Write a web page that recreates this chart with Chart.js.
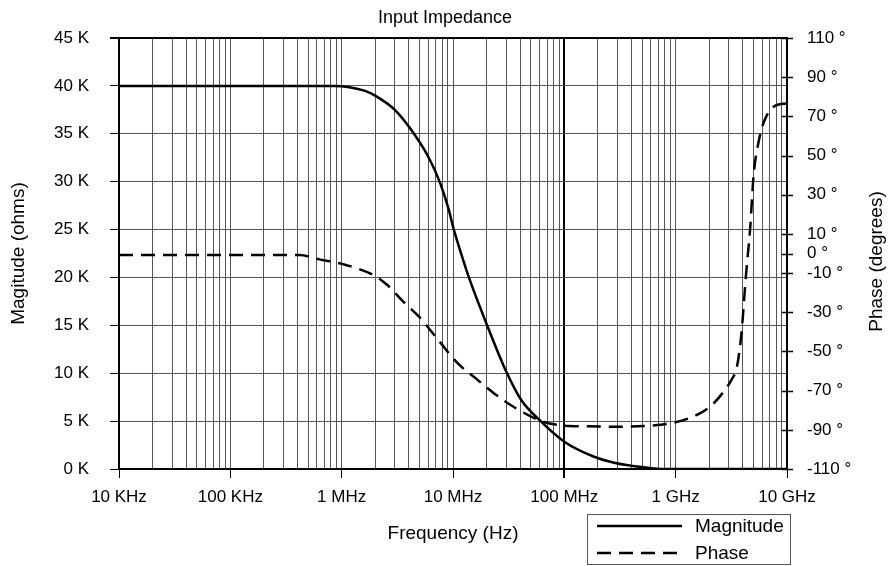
<!DOCTYPE html>
<html>
<head>
<meta charset="utf-8">
<script src="https://cdn.jsdelivr.net/npm/chart.js@4.4.0/dist/chart.umd.min.js"></script>
<style>
  html, body { margin: 0; padding: 0; background: #fff; }
</style>
</head>
<body>
<canvas id="canvas" width="890" height="566"></canvas>
<script>
const magFreq = [1e4, 8.6e5, 1.6e6, 2.05e6, 3.0e6, 4.1e6, 6.0e6, 7.7e6, 9.2e6, 1.0e7, 1.22e7, 1.45e7, 2.05e7, 3.0e7, 4.1e7, 6.0e7, 1.0e8, 1.85e8, 2.8e8, 5.2e8, 8.0e8, 1e10];
const magnitude = [40000, 40000, 39500, 38900, 37500, 35600, 32600, 29800, 27000, 25300, 22000, 19400, 14850, 10200, 7200, 5100, 2850, 1280, 660, 180, 0, 0];

const phaseFreq = [1e4, 4.17e5, 6.3e5, 1.02e6, 2.0e6, 2.57e6, 3.63e6, 5.0e6, 7.1e6, 1.1e7, 1.58e7, 2.34e7, 3.55e7, 6.2e7, 8.7e7, 1.6e8, 3.16e8, 6.3e8, 9.5e8, 1.55e9, 2.1e9, 2.7e9, 3.16e9, 3.55e9, 3.9e9, 4.27e9, 4.68e9, 5.0e9, 5.6e9, 6.3e9, 7.6e9, 1e10];
const phase = [-0.8, -0.8, -3.0, -5.4, -11.5, -16.1, -25.0, -32.5, -43.0, -56.0, -63.5, -71.4, -78.5, -85.5, -87.5, -88.2, -88.4, -87.8, -86.4, -82.4, -77.5, -70.5, -64.6, -57.8, -40.7, -11.8, 13.7, 39.2, 57.9, 68.1, 74.9, 76.7];

const freqTickLabels = ["10 KHz", "100 KHz", "1 MHz", "10 MHz", "100 MHz", "1 GHz", "10 GHz"];
const magTicks = [0, 5000, 10000, 15000, 20000, 25000, 30000, 35000, 40000, 45000];
const phaseTicks = [110, 90, 70, 50, 30, 10, 0, -10, -30, -50, -70, -90, -110];

const fontFamily = "'Liberation Sans', Arial, sans-serif";
Chart.defaults.font.family = fontFamily;
Chart.defaults.color = "#000";

const isDecade = (v) => {
  const l = Math.log10(v);
  return Math.abs(l - Math.round(l)) < 1e-9;
};

const freqTicks = [];
for (let d = 4; d < 10; d++) {
  for (let k = 1; k <= 9; k++) freqTicks.push(k * Math.pow(10, d));
}
freqTicks.push(1e10);

const extras = {
  id: "extras",
  afterDraw(chart) {
    const { ctx, chartArea, scales } = chart;
    const y1 = scales.y1;
    ctx.save();

    ctx.strokeStyle = "#000";
    ctx.lineWidth = 1.5;
    y1.ticks.forEach((t) => {
      const py = Math.round(y1.getPixelForValue(t.value)) + 0.5;
      ctx.beginPath();
      ctx.moveTo(chartArea.right - 5, py);
      ctx.lineTo(chartArea.right + 6, py);
      ctx.stroke();
    });

    ctx.save();
    ctx.font = "19px " + fontFamily;
    ctx.fillStyle = "#000";
    ctx.textAlign = "center";
    ctx.textBaseline = "middle";
    ctx.translate(chartArea.right + 90, (chartArea.top + chartArea.bottom) / 2 + 8);
    ctx.rotate(-Math.PI / 2);
    ctx.fillText("Phase (degrees)", 0, 0);
    ctx.restore();

    // legend box, bottom right
    const bx = chartArea.right - 200;
    const by = chartArea.bottom + 45;
    ctx.lineWidth = 1;
    ctx.strokeStyle = "#555";
    ctx.strokeRect(bx + 0.5, by + 0.5, 203, 50);
    ctx.font = "19px " + fontFamily;
    ctx.textAlign = "left";
    ctx.textBaseline = "middle";
    chart.data.datasets.forEach((ds, i) => {
      const ly = by + 12 + i * 27;
      ctx.strokeStyle = ds.borderColor;
      ctx.lineWidth = ds.borderWidth;
      ctx.setLineDash(ds.borderDash || []);
      ctx.beginPath();
      ctx.moveTo(bx + 10, ly);
      ctx.lineTo(bx + 95, ly);
      ctx.stroke();
      ctx.setLineDash([]);
      ctx.fillText(ds.label, bx + 108, ly + 1);
    });
    ctx.restore();
  },
};

const ctx = document.getElementById("canvas").getContext("2d");
new Chart(ctx, {
  type: "line",
  data: {
    datasets: [
      {
        label: "Magnitude",
        data: magFreq.map((f, i) => ({ x: f, y: magnitude[i] })),
        yAxisID: "y",
        borderColor: "#000",
        borderWidth: 2.5,
        pointRadius: 0,
        cubicInterpolationMode: "monotone",
      },
      {
        label: "Phase",
        data: phaseFreq.map((f, i) => ({ x: f, y: phase[i] })),
        yAxisID: "y1",
        borderColor: "#000",
        borderWidth: 2.5,
        borderDash: [14, 8],
        pointRadius: 0,
        cubicInterpolationMode: "monotone",
      },
    ],
  },
  options: {
    responsive: false,
    animation: false,
    layout: { padding: 0 },
    plugins: {
      legend: { display: false },
      tooltip: { enabled: false },
      title: {
        display: true,
        text: "Input Impedance",
        font: { size: 18, weight: "normal" },
        color: "#000",
        padding: { top: 7, bottom: 9.4 },
      },
    },
    scales: {
      x: {
        type: "logarithmic",
        min: 1e4,
        max: 1e10,
        afterBuildTicks: (scale) => {
          scale.ticks = freqTicks.map((v) => ({ value: v }));
        },
        afterFit: (scale) => {
          scale.height = 97;
        },
        ticks: {
          autoSkip: false,
          maxRotation: 0,
          padding: 9,
          font: { size: 17 },
          callback: (v) => (isDecade(v) ? freqTickLabels[Math.round(Math.log10(v)) - 4] : ""),
        },
        grid: {
          color: (c) => (c.tick && c.tick.value === 1e8 ? "#000" : "#555"),
          lineWidth: (c) => (c.tick && c.tick.value === 1e8 ? 2 : 1),
          tickLength: 9,
          tickColor: (c) => (c.tick && isDecade(c.tick.value) ? "#000" : "rgba(0,0,0,0)"),
        },
        border: { color: "#000", width: 2 },
        title: {
          display: true,
          text: "Frequency (Hz)",
          font: { size: 19 },
          padding: { top: 0, bottom: 21 },
        },
      },
      y: {
        position: "left",
        min: 0,
        max: 45000,
        afterBuildTicks: (scale) => {
          scale.ticks = magTicks.map((v) => ({ value: v }));
        },
        afterFit: (scale) => {
          scale.width = 119;
        },
        ticks: {
          autoSkip: false,
          padding: 21,
          font: { size: 17 },
          callback: (v) => v / 1000 + " K",
        },
        grid: {
          color: (c) => (c.tick && c.tick.value === 45000 ? "#000" : "#555"),
          lineWidth: (c) => (c.tick && c.tick.value === 45000 ? 2 : 1),
          tickLength: 9,
          tickColor: "#000",
        },
        border: { color: "#000", width: 2 },
        title: {
          display: true,
          text: "Magitude (ohms)",
          font: { size: 19 },
          padding: { top: 7, bottom: 0 },
        },
      },
      y1: {
        position: "right",
        min: -110,
        max: 110,
        afterBuildTicks: (scale) => {
          scale.ticks = phaseTicks.map((v) => ({ value: v }));
        },
        afterFit: (scale) => {
          scale.width = 103;
        },
        ticks: {
          autoSkip: false,
          padding: 20,
          font: { size: 17 },
          callback: (v) => v + " °",
        },
        grid: { drawOnChartArea: false, drawTicks: false },
        border: { color: "#000", width: 2 },
      },
    },
  },
  plugins: [extras],
});
</script>
</body>
</html>
